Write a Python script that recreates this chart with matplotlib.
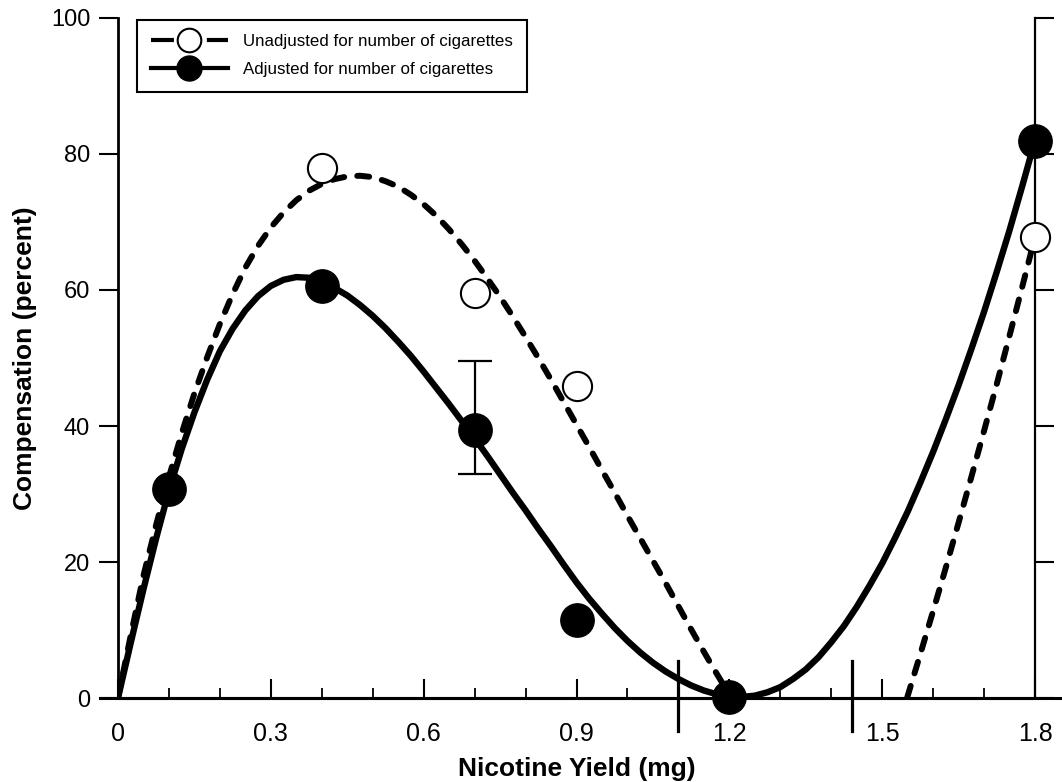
import matplotlib
matplotlib.use("Agg")
import matplotlib.pyplot as plt
from matplotlib.lines import Line2D

# fitted curves every 0.025 mg (nicotine yield mg -> compensation %)
curve_x = [0.0, 0.025, 0.05, 0.075, 0.1, 0.125, 0.15, 0.175, 0.2, 0.225, 0.25, 0.275,
           0.3, 0.325, 0.35, 0.375, 0.4, 0.425, 0.45, 0.475, 0.5, 0.525, 0.55, 0.575,
           0.6, 0.625, 0.65, 0.675, 0.7, 0.725, 0.75, 0.775, 0.8, 0.825, 0.85, 0.875,
           0.9, 0.925, 0.95, 0.975, 1.0, 1.025, 1.05, 1.075, 1.1, 1.125, 1.15, 1.175,
           1.2, 1.225, 1.25, 1.275, 1.3, 1.325, 1.35, 1.375, 1.4, 1.425, 1.45, 1.475,
           1.5, 1.525, 1.55, 1.575, 1.6, 1.625, 1.65, 1.675, 1.7, 1.725, 1.75, 1.775, 1.8]
adjusted_curve = [0, 8.1, 16, 23.5, 30.5, 36.6, 42, 46.8, 51, 54.3, 57, 59.1,
                  60.6, 61.5, 61.9, 61.8, 61.2, 60.3, 59.2, 57.8, 56.2, 54.4, 52.4, 50.3,
                  48.0, 45.6, 43.2, 40.7, 38.2, 35.6, 32.9, 30.2, 27.6, 24.9, 22.3, 19.6,
                  17.0, 14.6, 12.4, 10.3, 8.4, 6.7, 5.2, 3.9, 2.8, 1.85, 1.1, 0.55,
                  0.25, 0.15, 0.35, 0.85, 1.6, 2.8, 4.2, 6.0, 8.2, 10.6, 13.4, 16.5,
                  19.8, 23.5, 27.4, 31.7, 36.2, 41.0, 46.0, 51.3, 56.8, 62.7, 68.8, 75.3, 82.0]
unadjusted_curve = [0, 9.2, 18, 25.5, 32.5, 38.9, 44.8, 50.1, 55, 59.4, 63.3, 66.5,
                    69.2, 71.4, 73.2, 74.6, 75.6, 76.3, 76.7, 76.8, 76.6, 76.0, 75.2, 74.0,
                    72.6, 70.9, 68.9, 66.7, 64.3, 61.7, 59.0, 56.1, 53.1, 50.0, 46.8, 43.5,
                    40.2, 36.9, 33.5, 30.2, 26.8, 23.5, 20.2, 16.9, 13.5, 10.1, 6.8, 3.6,
                    0.5, -2.5, -5, -7, -9, -10, -11, -11.5, -12, -12, -12, -12,
                    -12, -6, 0.3, 6.5, 12.8, 19.2, 25.8, 32.5, 39.3, 46.2, 53.3, 60.5, 67.8]

# observed points
unadj_x = [0.4, 0.7, 0.9, 1.8]
unadj_y = [78, 59.6, 45.9, 67.8]
adj_x = [0.1, 0.4, 0.7, 0.9, 1.2, 1.8]
adj_y = [30.7, 60.6, 39.4, 11.5, 0.2, 81.9]

# error bar on the 0.7 mg adjusted point
err_x = 0.7
err_y = 39.4
err_low = 33.0
err_high = 49.6

cut_marks = [1.1, 1.44]

x_ticks = [0, 0.3, 0.6, 0.9, 1.2, 1.5, 1.8]
x_labels = ["0", "0.3", "0.6", "0.9", "1.2", "1.5", "1.8"]
y_ticks = [0, 20, 40, 60, 80, 100]

plt.rcParams["font.family"] = ["Liberation Sans", "DejaVu Sans"]

fig = plt.figure(figsize=(10.62, 7.82), dpi=100)
ax = fig.add_axes([0.1111, 0.1074, 0.8635, 0.8696])

ax.plot(curve_x, unadjusted_curve, color="black", lw=4.3, dashes=(2.0, 2.2),
        dash_capstyle="round", dash_joinstyle="round", zorder=2)
ax.plot(curve_x, adjusted_curve, color="black", lw=4.6, solid_capstyle="round",
        solid_joinstyle="round", zorder=2)

ax.errorbar([err_x], [err_y], yerr=[[err_y - err_low], [err_high - err_y]],
            fmt="none", ecolor="black", elinewidth=1.6, capsize=12, capthick=1.6, zorder=1)

ax.plot(unadj_x, unadj_y, "o", ms=21, mfc="white", mec="black", mew=1.5,
        clip_on=False, zorder=4)
ax.plot(adj_x, adj_y, "o", ms=24, mfc="black", mec="black", clip_on=False, zorder=5)

for xm in cut_marks:
    ax.axvline(xm, ymin=-0.049, ymax=0.054, color="black", lw=2.3, clip_on=False)

ax.set_xlim(0, 1.8)
ax.set_ylim(0, 100)

ax.spines["top"].set_visible(False)
ax.spines["left"].set_linewidth(2.0)
ax.spines["right"].set_linewidth(1.6)
ax.spines["bottom"].set_linewidth(2.2)
# bottom rule runs a little past both ends of the axis
ax.plot([-0.02, 1.03], [0, 0], transform=ax.transAxes, color="black", lw=2.2,
        clip_on=False, zorder=3)

ax.set_xticks(x_ticks)
ax.set_xticklabels(x_labels, fontsize=18)
ax.set_xticks([0.1 * i for i in range(19)], minor=True)
ax.tick_params(axis="x", which="major", direction="in", length=14, width=1.5, pad=17)
ax.tick_params(axis="x", which="minor", direction="in", length=7, width=1.3)

ax.set_yticks(y_ticks)
ax.set_yticklabels([str(v) for v in y_ticks], fontsize=17)
ax.tick_params(axis="y", direction="out", length=14, width=1.5, pad=6, right=True)

ax.set_xlabel("Nicotine Yield (mg)", fontsize=19, fontweight="bold", labelpad=8)
ax.set_ylabel("Compensation (percent)", fontsize=19, fontweight="bold", labelpad=10)

handles = [
    Line2D([0], [0], color="black", lw=3, dashes=(5.5, 1.2), marker="o", ms=17,
           mfc="white", mec="black", mew=1.5),
    Line2D([0], [0], color="black", lw=3, marker="o", ms=18, mfc="black", mec="black"),
]
leg = ax.legend(handles, ["Unadjusted for number of cigarettes", "Adjusted for number of cigarettes"],
                loc="upper left", bbox_to_anchor=(0.0207, 0.997), borderaxespad=0,
                fontsize=12.2, handlelength=4.5, handletextpad=0.9, labelspacing=0.75,
                borderpad=0.85, fancybox=False, framealpha=1)
leg.get_frame().set_edgecolor("black")
leg.get_frame().set_linewidth(1.5)

fig.savefig("out.png", dpi=100)
